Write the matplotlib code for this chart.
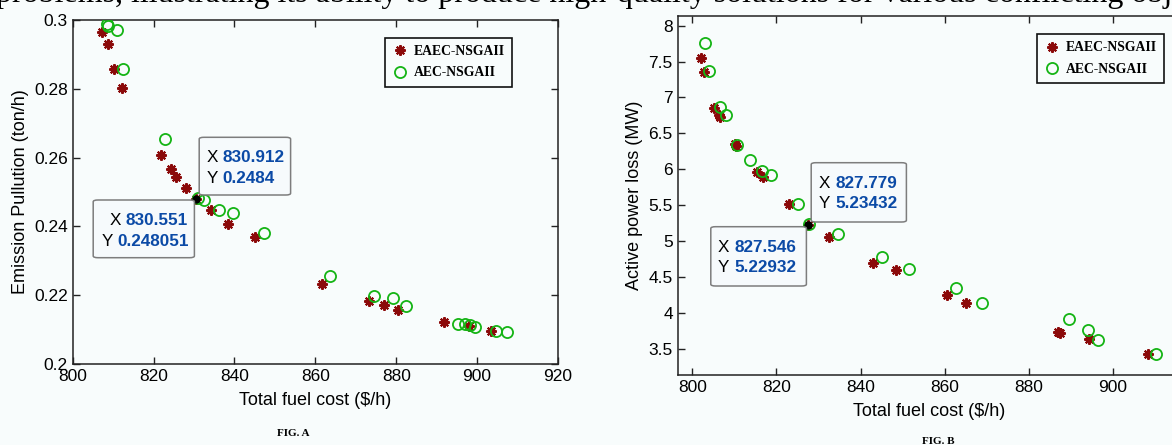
import matplotlib
matplotlib.use("Agg")
import matplotlib.pyplot as plt
from matplotlib.patches import FancyBboxPatch

# ---- FIG. A : fuel cost vs emission ----
a_eaec_cost = [807.3, 808.7, 810.1, 812.3, 821.9, 824.2, 825.6, 827.9, 830.551, 834.1, 838.5,
               845.2, 861.6, 873.2, 876.9, 880.4, 891.8, 897.9, 903.4]
a_eaec_emis = [0.2965, 0.2931, 0.2859, 0.2801, 0.2607, 0.2567, 0.2545, 0.2513, 0.248051, 0.2449, 0.2408,
               0.2368, 0.2234, 0.2183, 0.2171, 0.2156, 0.2122, 0.2110, 0.2097]
a_aec_cost = [808.4, 808.8, 810.9, 812.5, 822.8, 830.912, 832.5, 836.2, 839.7, 847.4, 863.7, 874.4,
              879.1, 882.5, 895.3, 897.1, 898.3, 899.4, 904.6, 907.5]
a_aec_emis = [0.2987, 0.2984, 0.2971, 0.2857, 0.2655, 0.2484, 0.2478, 0.2448, 0.2440, 0.2380, 0.2256, 0.2199,
              0.2191, 0.2169, 0.2116, 0.2115, 0.2112, 0.2109, 0.2097, 0.2094]

# ---- FIG. B : fuel cost vs power loss ----
b_eaec_cost = [802.0, 802.8, 805.2, 806.3, 806.6, 810.2, 810.4, 815.4, 816.7, 823.0, 827.546, 832.6,
               842.9, 848.5, 860.6, 865.1, 887.0, 887.4, 894.3, 908.3]
b_eaec_loss = [7.554, 7.350, 6.855, 6.760, 6.729, 6.345, 6.330, 5.966, 5.896, 5.515, 5.22932, 5.061,
               4.689, 4.596, 4.248, 4.132, 3.737, 3.718, 3.630, 3.426]
b_aec_cost = [803.0, 803.9, 806.5, 808.0, 810.5, 813.6, 816.5, 818.8, 825.1, 827.779, 834.7, 845.1,
              851.5, 862.7, 869.0, 889.6, 894.2, 896.4, 910.4]
b_aec_loss = [7.763, 7.368, 6.872, 6.751, 6.342, 6.124, 5.975, 5.920, 5.515, 5.23432, 5.093, 4.782,
              4.605, 4.345, 4.132, 3.909, 3.756, 3.626, 3.421]

# datatips: (x, y) shown in the boxes
a_tips = [(830.912, 0.2484), (830.551, 0.248051)]
b_tips = [(827.779, 5.23432), (827.546, 5.22932)]

W, H = 1172, 445
BG = '#f8fcfc'
STAR_C = '#8b0a0a'
CIRC_C = '#14b414'
TIP_C = '#0b4aa6'
ASTERISK = (8, 2, 0)

plt.rcParams['font.family'] = ['Liberation Sans', 'DejaVu Sans']

fig = plt.figure(figsize=(W / 100, H / 100), dpi=100, facecolor=BG)


def px(x, y):
    return x / W, 1 - y / H


def make_axes(l, t, r, b):
    x0, y1 = px(l, t)
    x1, y0 = px(r, b)
    ax = fig.add_axes([x0, y0, x1 - x0, y1 - y0])
    ax.set_facecolor(BG)
    for s in ax.spines.values():
        s.set_color('#222222')
        s.set_linewidth(1.1)
    ax.tick_params(direction='in', length=5, width=1, top=True, right=True,
                   labelsize=12.5, colors='#222222', labelcolor='black')
    return ax


def scatter(ax, xs1, ys1, xs2, ys2, dot):
    ax.plot(xs1, ys1, ls='none', marker=ASTERISK, ms=7.5, mew=1.5, color=STAR_C, label='EAEC-NSGAII', zorder=3)
    ax.plot(xs2, ys2, ls='none', marker='o', ms=8, mew=1.3, mfc='none', mec=CIRC_C, label='AEC-NSGAII', zorder=3)
    ax.plot([dot[0]], [dot[1]], ls='none', marker='o', ms=5, color='black', zorder=6)


def legend(ax, r, t):
    leg = ax.legend(loc='upper right', bbox_to_anchor=px(r, t), bbox_transform=fig.transFigure,
                    borderaxespad=0, fancybox=False, frameon=True, handlelength=1.0, handletextpad=0.5,
                    borderpad=0.55, labelspacing=0.6, prop={'family': 'Liberation Serif', 'weight': 'bold', 'size': 9.8})
    leg.get_frame().set_edgecolor('#111111')
    leg.get_frame().set_linewidth(1.2)
    leg.get_frame().set_facecolor(BG)
    leg.get_frame().set_alpha(1)


def tipbox(l, t, r, b):
    x0, y1 = px(l, t)
    x1, y0 = px(r, b)
    p = FancyBboxPatch((x0, y0), x1 - x0, y1 - y0, boxstyle='round,pad=0,rounding_size=0.004',
                       transform=fig.transFigure, facecolor='#f6fafc', edgecolor='#7d7d7d', lw=1.1, zorder=10)
    fig.patches.append(p)


def tiptext(xl, xn, y, lab, val):
    fig.text(*px(xl, y), lab, ha='left', va='center', fontsize=12.3, color='black', zorder=11)
    fig.text(*px(xn, y), val, ha='left', va='center', fontsize=12.3, color=TIP_C, weight='bold', zorder=11)


# ---------------- FIG. A ----------------
axA = make_axes(72.7, 20, 558, 364)
scatter(axA, a_eaec_cost, a_eaec_emis, a_aec_cost, a_aec_emis, a_tips[1])
axA.set_xlim(800, 920)
axA.set_ylim(0.2, 0.3)
axA.set_xticks([800, 820, 840, 860, 880, 900, 920])
axA.set_yticks([0.2, 0.22, 0.24, 0.26, 0.28, 0.3])
axA.set_yticklabels(['0.2', '0.22', '0.24', '0.26', '0.28', '0.3'])
axA.set_xlabel('Total fuel cost ($/h)', fontsize=13, labelpad=6)
axA.set_ylabel('Emission Pullution (ton/h)', fontsize=13, labelpad=4)
legend(axA, 512, 37.7)

tipbox(199.2, 137.3, 290.6, 195)
tiptext(206.5, 222.5, 157.5, 'X', f'{a_tips[0][0]:g}')
tiptext(206.5, 222.5, 178.5, 'Y', f'{a_tips[0][1]:g}')
tipbox(93.2, 200, 194.4, 257.7)
tiptext(110, 126, 220.5, 'X', f'{a_tips[1][0]:g}')
tiptext(101.5, 117.5, 241, 'Y', f'{a_tips[1][1]:g}')

# ---------------- FIG. B ----------------
axB = make_axes(677.7, 16, 1180, 374.7)
scatter(axB, b_eaec_cost, b_eaec_loss, b_aec_cost, b_aec_loss, b_tips[1])
axB.set_xlim(796.5, 916)
axB.set_ylim(3.137, 8.135)
axB.set_xticks([800, 820, 840, 860, 880, 900])
axB.set_yticks([3.5, 4, 4.5, 5, 5.5, 6, 6.5, 7, 7.5, 8])
axB.set_yticklabels(['3.5', '4', '4.5', '5', '5.5', '6', '6.5', '7', '7.5', '8'])
axB.set_xlabel('Total fuel cost ($/h)', fontsize=13, labelpad=6)
axB.set_ylabel('Active power loss (MW)', fontsize=13, labelpad=4)
legend(axB, 1164, 34)

tipbox(811.2, 162.7, 906.4, 222)
tiptext(818.5, 835, 183, 'X', f'{b_tips[0][0]:g}')
tiptext(818.5, 835, 204, 'Y', f'{b_tips[0][1]:g}')
tipbox(710.8, 226.7, 806.4, 286)
tiptext(718, 734.5, 247, 'X', f'{b_tips[1][0]:g}')
tiptext(718, 734.5, 268, 'Y', f'{b_tips[1][1]:g}')

# captions and clipped body text from the page
fig.text(*px(293, 433), 'FIG. A', ha='center', va='center', fontsize=8,
         family='Liberation Serif', weight='bold')
fig.text(*px(938, 441), 'FIG. B', ha='center', va='center', fontsize=8,
         family='Liberation Serif', weight='bold')
fig.text(*px(-4, 2), 'problems, illustrating its ability to produce high-quality solutions for various conflicting obj',
         ha='left', va='baseline', fontsize=23, family='Liberation Serif')

fig.savefig('out.png', dpi=100, facecolor=BG)
